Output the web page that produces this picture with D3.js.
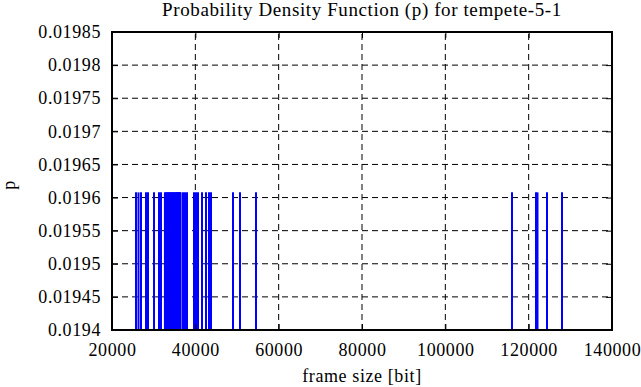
<!DOCTYPE html>
<html>
<head>
<meta charset="utf-8">
<script src="https://cdn.jsdelivr.net/npm/d3@7"></script>
<style>
  body { margin: 0; background: #fff; }
  svg { display: block; }
  text { font-family: "Liberation Serif", "Times New Roman", serif !important; fill: #000; letter-spacing: 0.6px; }
</style>
</head>
<body>
<svg id="pdf_svg" width="641" height="387"></svg>
<script>
// Frame sizes (bit) seen in the trace, one impulse each
var frameSizes = [
    25760, 26360, 26960, 28160, 28640, 30080, 31280, 31760,
    32700, 32850, 33050, 33250, 33400, 33600, 33800, 33950,
    34100, 34300, 34450, 34600, 34800, 34950, 35100, 35300,
    35450, 35600, 35750, 35900, 36050, 36150, 36250, 36350, 36450,
    37040, 37520, 38000,
    39680, 40160, 40640, 41600, 42560, 43280, 43760,
    49040, 50720, 54560,
    116000, 121760, 122120, 124400, 128000
];
// every frame size occurs once -> p = 1/51
var probValue = 1 / frameSizes.length;

var xTicks = [20000, 40000, 60000, 80000, 100000, 120000, 140000];
var yTicks = [0.0194, 0.01945, 0.0195, 0.01955, 0.0196, 0.01965, 0.0197, 0.01975, 0.0198, 0.01985];

var titleText = "Probability Density Function (p) for tempete-5-1";
var xLabel = "frame size [bit]";
var yLabel = "p";

var svg = d3.select("#pdf_svg");
var margin = {left: 112, right: 29, top: 32, bottom: 57};
var width = 641, height = 387;
var innerW = width - margin.left - margin.right;
var innerH = height - margin.top - margin.bottom;

var xScale = d3.scaleLinear().domain([20000, 140000]).range([margin.left, margin.left + innerW]);
var yScale = d3.scaleLinear().domain([0.0194, 0.01985]).range([margin.top + innerH, margin.top]);

// grid
var grid = svg.append("g");
grid.selectAll(".hgrid")
    .data(yTicks.slice(1, -1))
    .enter()
    .append("line")
        .attr("x1", xScale(20000))
        .attr("x2", xScale(140000))
        .attr("y1", function(d) { return yScale(d); })
        .attr("y2", function(d) { return yScale(d); })
        .style("stroke", "black")
        .style("stroke-width", 1)
        .style("stroke-dasharray", "6,4");

grid.selectAll(".vgrid")
    .data(xTicks.slice(1, -1))
    .enter()
    .append("line")
        .attr("x1", function(d) { return xScale(d); })
        .attr("x2", function(d) { return xScale(d); })
        .attr("y1", yScale(0.0194))
        .attr("y2", yScale(0.01985))
        .style("stroke", "black")
        .style("stroke-width", 1)
        .style("stroke-dasharray", "6,4");

// impulses
svg.append("g")
    .selectAll("line")
    .data(frameSizes)
    .enter()
    .append("line")
        .attr("x1", function(d) { return xScale(d); })
        .attr("x2", function(d) { return xScale(d); })
        .attr("y1", yScale(0.0194))
        .attr("y2", yScale(probValue))
        .style("stroke", "#0000ff")
        .style("stroke-width", 2);

// axes (ticks inward, mirrored)
var tickLen = 6;
svg.append("g")
    .attr("transform", "translate(0," + yScale(0.0194) + ")")
    .call(d3.axisBottom(xScale).tickValues(xTicks).tickSizeInner(-tickLen).tickSizeOuter(0).tickPadding(13)
        .tickFormat(d3.format("d")))
    .call(function(g) {
        g.select(".domain").remove();
        g.attr("font-family", null).attr("font-size", null);
        g.selectAll("text").style("font-size", "18px");
    });
svg.append("g")
    .attr("transform", "translate(0," + yScale(0.01985) + ")")
    .call(d3.axisTop(xScale).tickValues(xTicks).tickSizeInner(-tickLen).tickSizeOuter(0).tickFormat(""))
    .call(function(g) { g.select(".domain").remove(); });
svg.append("g")
    .attr("transform", "translate(" + xScale(20000) + ",0)")
    .call(d3.axisLeft(yScale).tickValues(yTicks).tickSizeInner(-tickLen).tickSizeOuter(0).tickPadding(11)
        .tickFormat(function(d) { return String(+d.toFixed(5)); }))
    .call(function(g) {
        g.select(".domain").remove();
        g.attr("font-family", null).attr("font-size", null);
        g.selectAll("text").style("font-size", "18px");
    });
svg.append("g")
    .attr("transform", "translate(" + xScale(140000) + ",0)")
    .call(d3.axisRight(yScale).tickValues(yTicks).tickSizeInner(-tickLen).tickSizeOuter(0).tickFormat(""))
    .call(function(g) { g.select(".domain").remove(); });

// frame
svg.append("rect")
    .attr("x", xScale(20000))
    .attr("y", yScale(0.01985))
    .attr("width", innerW)
    .attr("height", innerH)
    .style("fill", "none")
    .style("stroke", "black")
    .style("stroke-width", 2);

// labels
svg.append("text")
    .attr("x", margin.left + innerW / 2)
    .attr("y", 16)
    .attr("text-anchor", "middle")
    .style("font-size", "19px")
    .text(titleText);

svg.append("text")
    .attr("x", margin.left + innerW / 2)
    .attr("y", 382)
    .attr("text-anchor", "middle")
    .style("font-size", "18px")
    .text(xLabel);

svg.append("text")
    .attr("transform", "translate(15,185) rotate(-90)")
    .attr("text-anchor", "middle")
    .style("font-size", "18px")
    .text(yLabel);
</script>
</body>
</html>
